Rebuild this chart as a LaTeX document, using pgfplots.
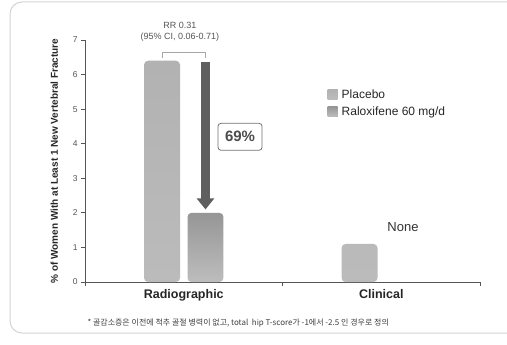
\documentclass[border=0pt]{standalone}
\usepackage{pgfplots}
\pgfplotsset{compat=1.18}
\usepackage{fontspec}
\setmainfont{Liberation Sans}
\newfontfamily\krfont{Noto Sans CJK KR}
\usetikzlibrary{arrows.meta}

\definecolor{axisgray}{HTML}{555555}
\definecolor{placeboTop}{HTML}{B2B2B2}
\definecolor{placeboBot}{HTML}{BBBBBB}
\definecolor{raloxTop}{HTML}{969696}
\definecolor{raloxBot}{HTML}{BDBDBD}
\definecolor{arrowgray}{HTML}{5F5F5F}
\definecolor{framegray}{HTML}{D4D4D4}

\begin{document}
\begin{tikzpicture}[x=1bp,y=1bp]
\useasboundingbox (0,0) rectangle (507,344);
\fill[white] (0,0) rectangle (507,344);
% panel frame
\draw[framegray, line width=1bp, rounded corners=12bp] (10,11) rectangle (530,342);

\begin{axis}[
  at={(85bp,62bp)}, anchor=south west,
  scale only axis, width=395bp, height=242bp,
  xmin=0, xmax=2, ymin=0, ymax=7,
  clip=false,
  axis lines*=left,
  axis line style={axisgray, line width=0.8bp},
  every tick/.style={axisgray, line width=0.8bp},
  tick align=outside, major tick length=4bp,
  xtick={0,1,2}, xticklabels={},
  extra x ticks={0.5,1.5},
  extra x tick labels={Radiographic,Clinical},
  extra x tick style={major tick length=0pt,
    tick label style={font=\fontsize{12.5bp}{14bp}\selectfont\bfseries, text=black!85, yshift=-4bp}},
  ytick={0,1,...,7},
  /pgf/number format/assume math mode=true,
  yticklabel style={font=\fontsize{8.5bp}{9bp}\selectfont, text=axisgray},
  ylabel={\% of Women With at Least 1 New Vertebral Fracture},
  ylabel style={at={(axis description cs:-0.078,0.5)}, anchor=center,
    font=\fontsize{10bp}{11bp}\selectfont\bfseries, text=black!85},
  legend style={at={(axis description cs:0.614,0.805)}, anchor=north west,
    draw=none, fill=none, inner sep=0pt,
    font=\fontsize{12bp}{14bp}\selectfont, text=black!85,
    row sep=3bp, nodes={inner xsep=4bp}},
  legend cell align=left,
]

% Placebo
\addplot[ybar, bar width=0.182, bar shift=0, draw=none,
  top color=placeboTop, bottom color=placeboBot, rounded corners=4bp,
  legend image code/.code={\fill[placeboTop, sharp corners] (0bp,-5bp) rectangle (10bp,5bp);}]
  coordinates {(0.39,6.4) (1.39,1.1)};
\addlegendentry{Placebo}

% Raloxifene 60 mg/d (no clinical fractures)
\addplot[ybar, bar width=0.182, bar shift=0, draw=none,
  top color=raloxTop, bottom color=raloxBot, rounded corners=4bp,
  legend image code/.code={\fill[raloxTop, sharp corners] (0bp,-5bp) rectangle (10bp,5bp);}]
  coordinates {(0.61,2.0)};
\addlegendentry{Raloxifene 60 mg/d}

% relative risk bracket and annotation
\draw[black!35, line width=0.7bp] (axis cs:0.39,6.47) |- (axis cs:0.61,6.65) -- (axis cs:0.61,6.47);
\node[font=\fontsize{9bp}{10bp}\selectfont, text=axisgray] at (axis cs:0.48,7.42) {RR 0.31};
\node[font=\fontsize{9bp}{10bp}\selectfont, text=axisgray] at (axis cs:0.48,7.07) {(95\% CI, 0.06-0.71)};

% reduction arrow
\draw[arrowgray, line width=9bp, -{Triangle[width=17bp,length=11bp]}]
  (axis cs:0.61,6.36) -- (axis cs:0.61,2.1);
\node[draw=black!55, line width=0.8bp, rounded corners=3bp, fill=white,
  minimum width=44bp, minimum height=27bp, inner sep=0pt,
  font=\fontsize{15bp}{17bp}\selectfont\bfseries, text=black!70]
  at (axis cs:0.785,4.2) {69\%};

\node[font=\fontsize{13bp}{15bp}\selectfont, text=black!80] at (axis cs:1.61,1.59) {None};
\end{axis}

\node[anchor=west, font=\krfont\fontsize{8bp}{9bp}\selectfont, text=black!75]
  at (84,21) {* 골감소증은 이전에 척추 골절 병력이 없고, total\ \ hip T-score가 -1에서 -2.5 인 경우로 정의};
\end{tikzpicture}
\end{document}
